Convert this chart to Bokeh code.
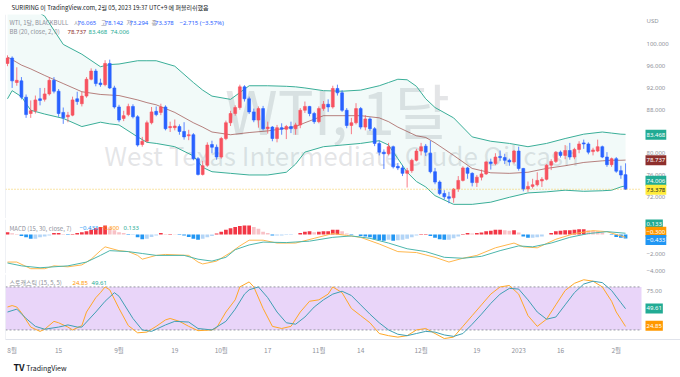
from bokeh.plotting import figure
from bokeh.layouts import column
from bokeh.models import Range1d, FixedTicker, Label, Span, BoxAnnotation, ColumnDataSource
from bokeh.embed import file_html
from bokeh.resources import INLINE
from bokeh.core.properties import value

# ---------------- data ----------------
opens = [96.5, 97.5, 93.0, 93.3, 90.3, 87.3, 87.8, 90.0, 89.9, 90.9,
         93.4, 91.4, 87.5, 86.7, 87.0, 90.0, 89.1, 90.5, 93.6, 95.1,
         92.9, 92.6, 96.5, 92.0, 88.5, 86.4, 87.1, 88.6, 86.7, 81.6,
         82.2, 85.6, 87.7, 87.5, 88.5, 84.7, 84.7, 84.9, 84.0, 83.2,
         83.4, 79.0, 76.1, 77.8, 81.6, 81.1, 79.3, 82.7, 85.6, 87.3,
         88.4, 92.2, 90.0, 87.6, 86.1, 88.2, 84.5, 84.8, 82.7, 84.7,
         84.4, 84.9, 84.5, 85.2, 87.9, 88.6, 87.3, 85.8, 88.2, 89.0,
         88.5, 91.9, 91.1, 87.9, 85.1, 85.6, 88.2, 84.8, 86.3, 84.5,
         81.8, 80.2, 79.9, 81.2, 77.6, 77.3, 76.3, 76.8, 78.7, 80.4,
         81.3, 80.0, 76.6, 74.7, 72.6, 72.0, 71.8, 73.4, 75.0, 77.3,
         76.3, 74.6, 75.6, 76.2, 78.4, 78.1, 79.4, 79.2, 78.7, 78.4,
         80.4, 77.2, 73.4, 73.9, 74.2, 74.9, 75.2, 77.8, 78.5, 80.2,
         79.6, 80.5, 79.3, 80.7, 81.9, 81.7, 80.3, 80.4, 81.2, 79.3,
         77.9, 79.0, 76.8, 76.065]
highs = [98.0, 97.8, 95.8, 94.0, 90.8, 89.7, 90.6, 92.0, 92.0, 94.0,
         94.0, 91.8, 88.4, 87.6, 90.4, 91.3, 91.3, 94.0, 95.6, 95.5,
         93.7, 97.1, 97.2, 92.4, 88.9, 87.8, 89.1, 89.0, 87.0, 83.0,
         86.0, 88.5, 88.6, 89.1, 88.8, 85.8, 86.2, 85.3, 85.7, 84.3,
         83.7, 79.3, 78.6, 82.0, 82.3, 81.6, 83.0, 86.0, 87.8, 88.8,
         92.6, 92.5, 90.4, 88.2, 88.6, 88.7, 85.8, 85.0, 85.2, 85.5,
         85.2, 85.8, 85.6, 88.3, 89.5, 88.7, 87.6, 88.6, 89.6, 89.9,
         92.4, 92.6, 91.6, 88.3, 86.5, 89.2, 88.5, 87.0, 86.6, 84.8,
         82.3, 80.7, 81.9, 81.4, 78.2, 77.8, 77.3, 79.0, 80.8, 81.9,
         81.7, 82.3, 77.3, 75.0, 73.2, 72.9, 73.6, 75.8, 77.6, 77.5,
         76.5, 76.0, 77.0, 78.6, 79.0, 80.0, 80.5, 79.9, 79.0, 80.6,
         81.2, 77.3, 74.8, 75.3, 76.5, 75.6, 78.0, 78.9, 80.4, 80.5,
         81.5, 81.9, 81.0, 82.2, 82.5, 82.0, 81.0, 82.5, 81.4, 80.2,
         79.2, 79.3, 77.7, 78.142]
lows = [96.0, 92.0, 92.4, 89.9, 86.5, 86.5, 87.3, 88.8, 89.5, 90.6,
        91.0, 86.7, 85.4, 85.7, 86.8, 88.9, 88.6, 90.2, 93.4, 92.3,
        92.2, 92.3, 91.8, 88.2, 85.7, 85.9, 86.8, 86.4, 81.2, 81.2,
        82.0, 85.3, 86.8, 87.0, 84.2, 83.9, 84.2, 83.4, 82.5, 82.4,
        78.7, 75.9, 75.9, 77.5, 80.0, 78.8, 79.0, 82.4, 85.0, 86.9,
        88.0, 89.5, 87.2, 85.7, 84.7, 84.2, 83.6, 82.2, 82.0, 83.4,
        82.6, 83.7, 83.4, 84.6, 87.4, 86.8, 85.4, 85.5, 87.8, 87.6,
        88.2, 90.6, 87.6, 84.6, 83.5, 85.3, 84.4, 84.2, 84.1, 81.3,
        79.6, 77.1, 79.6, 77.2, 76.9, 75.8, 73.7, 76.4, 78.5, 79.6,
        79.5, 76.3, 74.3, 72.3, 71.5, 70.8, 70.9, 72.9, 74.8, 75.3,
        73.9, 73.8, 75.0, 76.0, 77.0, 77.8, 78.6, 78.0, 77.7, 78.1,
        76.8, 73.0, 72.9, 73.5, 73.9, 73.8, 75.0, 76.9, 78.2, 79.2,
        78.9, 78.8, 78.9, 80.0, 80.8, 79.8, 79.6, 80.2, 79.1, 77.5,
        77.5, 76.4, 75.3, 73.294]
closes = [97.5, 93.3, 93.4, 90.3, 87.1, 87.8, 89.8, 89.7, 90.9, 93.4,
          91.4, 87.3, 86.5, 87.0, 89.8, 89.5, 90.5, 93.6, 95.1, 92.8,
          92.6, 96.5, 92.0, 88.5, 86.1, 86.9, 88.6, 86.7, 81.5, 82.2,
          85.6, 87.6, 87.1, 88.5, 84.5, 84.9, 85.0, 84.0, 83.0, 83.4,
          79.0, 76.1, 77.7, 81.5, 81.1, 79.3, 82.7, 85.6, 87.3, 88.4,
          92.2, 90.0, 87.6, 86.1, 88.2, 84.5, 84.8, 82.7, 84.7, 84.4,
          84.9, 84.5, 85.2, 87.9, 88.6, 87.3, 85.8, 88.2, 89.0, 88.5,
          91.9, 91.1, 87.9, 85.1, 85.6, 88.2, 84.8, 86.3, 84.5, 81.8,
          80.2, 79.9, 81.2, 77.5, 77.3, 76.3, 76.8, 78.7, 80.4, 81.2,
          80.2, 76.6, 74.7, 72.6, 72.0, 71.7, 73.4, 75.0, 77.3, 76.3,
          74.6, 75.6, 76.2, 78.4, 78.1, 79.3, 79.2, 78.7, 78.4, 80.4,
          77.2, 73.4, 73.9, 74.2, 75.0, 75.2, 77.8, 78.5, 80.2, 79.6,
          80.5, 79.3, 80.7, 81.7, 81.7, 80.2, 80.6, 81.2, 79.3, 77.9,
          79.0, 76.7, 76.0, 73.378]

# Bollinger bands (20, close, 2) read at these bar positions
bb_x = [0, 1, 3, 5, 8, 12, 16, 20, 22, 24, 28, 30, 32, 36, 40, 42, 44, 48, 52, 56,
        60, 62, 64, 68, 72, 76, 80, 82, 84, 86, 88, 90, 92, 96, 100, 104, 108, 112,
        116, 120, 124, 128, 130, 132, 133]
bb_upper = [108.0, 107.8, 107.3, 106.8, 105.2, 100.0, 98.2, 95.9, 96.3, 96.4, 97.0, 97.0,
            97.0, 96.0, 93.0, 91.6, 90.5, 89.9, 92.4, 92.4, 92.3, 92.2, 92.0, 91.5, 91.4,
            91.6, 92.4, 93.0, 93.6, 93.5, 92.3, 90.0, 88.4, 86.5, 83.0, 82.2, 81.8, 81.2,
            81.8, 82.7, 83.5, 83.9, 83.7, 83.5, 83.468]
bb_basis = [97.7, 97.2, 96.2, 95.5, 94.3, 92.8, 91.3, 90.8, 90.7, 90.6, 89.8, 89.3,
            88.9, 87.5, 85.6, 84.8, 83.9, 83.4, 83.8, 84.1, 84.6, 84.9, 85.6, 86.9, 86.9,
            86.9, 86.5, 85.8, 84.8, 84.0, 83.2, 82.9, 81.9, 79.6, 77.2, 76.4, 76.3, 76.5,
            77.2, 77.7, 78.3, 78.6, 78.7, 78.7, 78.737]
bb_lower = [90.0, 91.5, 90.4, 87.9, 87.2, 86.4, 84.9, 85.7, 85.4, 85.2, 83.0, 82.0,
            81.8, 81.2, 79.5, 77.4, 76.6, 76.3, 76.0, 76.0, 76.5, 78.0, 80.2, 81.2, 81.5,
            81.8, 82.3, 81.5, 79.0, 76.5, 74.8, 73.8, 72.2, 70.6, 70.6, 71.0, 71.9, 72.7,
            72.9, 73.2, 73.0, 73.1, 73.2, 73.8, 74.006]

# MACD (15, 30, close, 7)
macd_hist = [0.25, 0.12, 0.05, -0.15, -0.3, -0.45, -0.45, -0.3, -0.2, -0.1,
             0.15, 0.15, 0.05, -0.05, 0.05, 0.15, 0.25, 0.35, 0.5, 0.65,
             0.8, 0.95, 0.75, 0.45, 0.25, 0.15, -0.05, -0.05, -0.3, -0.5,
             -0.45, -0.25, -0.1, 0.15, 0.05, 0.05, 0.03, -0.05, -0.1, -0.25,
             -0.45, -0.55, -0.45, -0.3, -0.15, 0.1, 0.3, 0.5, 0.65, 0.8,
             0.9, 0.95, 0.95, 0.8, 0.6, 0.3, 0.15, -0.1, -0.1, -0.1,
             -0.05, -0.05, 0.0, 0.15, 0.3, 0.35, 0.25, 0.3, 0.35, 0.35,
             0.5, 0.5, 0.35, 0.1, -0.05, 0.0, -0.15, -0.2, -0.3, -0.5,
             -0.6, -0.65, -0.55, -0.65, -0.6, -0.55, -0.45, -0.3, -0.1, 0.05,
             0.05, -0.15, -0.35, -0.5, -0.55, -0.55, -0.4, -0.2, 0.05, 0.15,
             0.1, 0.15, 0.2, 0.35, 0.4, 0.5, 0.5, 0.45, 0.4, 0.45,
             0.2, -0.2, -0.35, -0.35, -0.3, -0.2, 0.0, 0.15, 0.35, 0.4,
             0.45, 0.45, 0.5, 0.55, 0.55, 0.45, 0.4, 0.35, 0.2, 0.0,
             -0.05, -0.25, -0.35, -0.433]
macd_x = [0, 2, 5, 8, 10, 13, 16, 18, 20, 21, 24, 26, 28, 29, 32, 34, 39, 41, 42, 45,
          48, 50, 52, 55, 58, 62, 66, 70, 73, 76, 80, 84, 88, 92, 95, 98, 101, 105, 109,
          111, 114, 118, 122, 126, 129, 131, 133]
macd_line = [-2.9, -2.9, -3.6, -3.6, -3.3, -3.4, -3.2, -2.6, -1.7, -1.3, -1.7, -1.8,
             -2.2, -2.6, -2.2, -2.1, -2.2, -2.9, -3.1, -2.8, -1.9, -1.2, -0.6, -0.6,
             -0.9, -0.9, -0.4, 0.1, -0.1, -0.3, -1.0, -1.8, -1.9, -2.4, -2.9, -2.5,
             -2.2, -1.4, -0.9, -1.3, -1.4, -0.5, 0.1, 0.4, 0.3, 0.0, -0.3]
signal_x = [0, 3, 7, 13, 17, 20, 22, 26, 29, 32, 38, 41, 44, 47, 49, 52, 55, 60, 65, 70,
            74, 78, 82, 86, 90, 94, 98, 102, 106, 110, 113, 117, 121, 125, 129, 133]
signal_line = [-3.0, -3.3, -3.5, -3.3, -2.9, -2.2, -1.7, -1.8, -2.0, -2.2, -2.2, -2.6,
               -2.8, -2.4, -1.6, -1.1, -0.8, -0.85, -0.7, -0.3, -0.15, -0.4, -0.9, -1.5,
               -1.8, -2.4, -2.5, -2.3, -1.7, -1.2, -1.3, -0.9, -0.3, 0.1, 0.3, 0.133]

# Stochastic (15, 5, 5)
stoch_k_x = [0, 1, 2, 3, 5, 7, 8, 10, 11, 13, 14, 16, 17, 19, 20, 21, 22, 24, 26, 28,
             30, 32, 34, 35, 37, 39, 41, 44, 45, 47, 49, 50, 52, 53, 55, 57, 59, 61, 63,
             65, 67, 69, 70, 72, 74, 76, 78, 80, 82, 84, 86, 88, 90, 92, 94, 96, 98, 100,
             102, 104, 106, 108, 110, 112, 114, 116, 118, 120, 122, 124, 126, 128, 130,
             131, 132, 133]
stoch_k = [52, 54, 52, 44, 24, 18, 21, 32, 30, 24, 20, 26, 45, 65, 72, 80, 76, 50, 26, 16,
           17, 25, 34, 36, 32, 25, 19, 20, 23, 45, 62, 80, 87, 80, 50, 25, 22, 25, 45,
           60, 62, 70, 80, 72, 50, 40, 30, 15, 12, 10, 12, 20, 22, 15, 8, 10, 25, 40,
           55, 70, 80, 82, 70, 40, 25, 35, 55, 75, 85, 90, 88, 80, 60, 45, 35, 24.85]
stoch_d_x = [0, 2, 4, 6, 8, 11, 13, 15, 16, 19, 21, 23, 24, 27, 29, 31, 34, 36, 39, 41,
             44, 47, 49, 51, 52, 54, 56, 58, 60, 62, 64, 66, 68, 70, 72, 74, 76, 78, 80,
             82, 84, 86, 88, 90, 92, 94, 96, 98, 100, 102, 104, 106, 108, 110, 112, 114,
             116, 118, 120, 122, 124, 126, 128, 130, 132, 133]
stoch_d = [45, 49, 36, 25, 21, 24, 27, 24, 24, 45, 60, 72, 67, 36, 20, 18, 27, 32, 31, 22,
           20, 32, 49, 70, 76, 80, 65, 45, 30, 28, 38, 52, 62, 70, 74, 68, 55, 42, 30,
           20, 14, 12, 15, 18, 17, 13, 11, 15, 28, 42, 57, 70, 78, 77, 62, 45, 35, 38,
           55, 72, 84, 88, 86, 75, 58, 49.61]

tick_bars = [1, 11, 24, 36, 46, 56, 67, 76, 89, 101, 110, 119, 131]
tick_labels = ["8월", "15", "9월", "19", "10월", "17", "11월", "14", "12월", "19", "2023", "16", "2월"]
price_ticks = [72, 76, 80, 88, 92, 96, 100]
macd_ticks = [-2]
macd_low_label = -4
stoch_ticks = [75]

# ---------------- layout constants ----------------
W = 680
LEFT, SCALE_X = 5, 641          # chart frame left edge, price-scale edge (px)
PXB = 4.647                     # px per bar
X0 = -0.43
X1 = X0 + (W - LEFT) / PXB


def mx(px):
    return X0 + (px - LEFT) / PXB


XS = mx(SCALE_X)

MAIN_T, MAIN_H = 14, 204
P_TOP, P_SCALE = 105.5, 5.44


def my(py):
    return P_TOP - (py - MAIN_T) / P_SCALE


MACD_T, MACD_H = 219, 54
M_SCALE = 9.5
M_TOP = (234 - MACD_T) / M_SCALE


def mcy(py):
    return M_TOP - (py - MACD_T) / M_SCALE


ST_T, ST_H, ST_B = 274, 68, 15
S_SCALE = 0.75
S_TOP = 80 + (287 - ST_T) / S_SCALE


def sty(py):
    return S_TOP - (py - ST_T) / S_SCALE


KFONT = "Noto Sans CJK KR"
NFONT = "Noto Sans"
AXC = "#8f929b"
LEGC = "#8f929b"
BORDER = "#e0e3eb"
SEPC = "#b8bbc3"
UP, DOWN = "#f7525f", "#2962ff"
TEAL = "#22ab94"
ORANGE = "#ff9800"
BLUE = "#2196f3"
BASIS = "#8e2f2c"
FS = "6px"
LFS = "6px"

bars = list(range(len(closes)))


def pane(h, y0, y1, bottom=0, xaxis=False):
    p = figure(width=W, height=h + bottom, x_range=Range1d(X0, X1), y_range=Range1d(y0, y1),
               toolbar_location=None, output_backend="svg", title=None,
               x_axis_location="below" if xaxis else None, y_axis_location="right",
               min_border_left=LEFT, min_border_right=0, min_border_top=0,
               min_border_bottom=bottom)
    p.outline_line_color = None
    p.grid.visible = False
    p.background_fill_color = "white"
    p.border_fill_color = "white"
    ya = p.yaxis[0]
    ya.fixed_location = XS
    ya.axis_line_color = None
    ya.major_tick_line_color = None
    ya.minor_tick_line_color = None
    ya.major_tick_out = 0
    ya.major_tick_in = 0
    ya.major_label_text_font_size = FS
    ya.major_label_text_color = AXC
    ya.major_label_text_font = NFONT
    ya.major_label_standoff = 5
    p.add_layout(Span(location=X0, dimension="height", line_color=BORDER, line_width=1))
    return p


def strip(h, color):
    s = figure(width=W, height=h, toolbar_location=None, output_backend="svg", title=None,
               x_axis_location=None, y_axis_location=None, min_border=0,
               x_range=Range1d(0, W), y_range=Range1d(h, 0))
    s.outline_line_color = None
    s.grid.visible = False
    s.background_fill_color = color
    s.border_fill_color = color
    return s


def legend(p, items, y, size=LFS):
    src = ColumnDataSource(dict(x=[mx(a) for a, _, _, _ in items], y=[y] * len(items),
                                text=[t for _, t, _, _ in items],
                                color=[c for _, _, c, _ in items],
                                font=[f for _, _, _, f in items]))
    p.text(x="x", y="y", text="text", text_color="color", text_font="font", source=src,
           text_font_size=size, text_baseline="middle", text_align="left")


def tag(p, yv, txt, bg, fg="white"):
    p.add_layout(Label(x=mx(645), y=yv, text=txt, text_font=NFONT, text_font_size=FS,
                       text_color=fg, background_fill_color=bg, text_baseline="middle",
                       text_align="left", padding=(1, 3)))


# ---------------- header ----------------
hdr = strip(13, "white")
hdr.text(x=[6], y=[7], text=["SURIRING 이 TradingView.com, 2월 05, 2023 19:37 UTC+9 에 퍼블리쉬했음"],
         text_font=value(KFONT), text_font_size="6px", text_color="#131722",
         text_baseline="middle", text_align="left")

# ---------------- main price pane ----------------
pm = pane(MAIN_H, my(MAIN_T + MAIN_H), P_TOP)
pm.yaxis.ticker = FixedTicker(ticks=price_ticks)
pm.yaxis.major_label_overrides = {t: f"{t:.3f}" for t in price_ticks}

pm.text(x=[mx(337)], y=[my(108)], text=["WTI, 1달"], text_font=value(KFONT),
        text_font_size="60px", text_color="#9598a1", text_alpha=0.25,
        text_align="center", text_baseline="alphabetic")
pm.text(x=[mx(341)], y=[my(154)], text=["West Texas Intermediate Crude Oil cash"],
        text_font=value(KFONT), text_font_size="26px", text_color="#9598a1", text_alpha=0.25,
        text_align="center", text_baseline="alphabetic")

pm.varea(x=bb_x, y1=bb_lower, y2=bb_upper, fill_color="#26a69a", fill_alpha=0.06)
pm.line(bb_x, bb_upper, line_color="#3aae98", line_width=1)
pm.line(bb_x, bb_lower, line_color="#3aae98", line_width=1)
pm.line(bb_x, bb_basis, line_color=BASIS, line_alpha=0.6, line_width=1)

ccol = [UP if c >= o else DOWN for o, c in zip(opens, closes)]
csrc = ColumnDataSource(dict(x=bars, o=opens, h=highs, l=lows, c=closes, col=ccol))
pm.segment(x0="x", y0="l", x1="x", y1="h", line_color="col", line_alpha=0.75,
           line_width=1, source=csrc)
pm.vbar(x="x", width=0.62, top="c", bottom="o", fill_color="col", line_color="col",
        line_width=0.6, source=csrc)

pm.line([X0, XS], [closes[-1], closes[-1]], line_color="#f2c94c", line_dash="1 2", line_width=1)

legend(pm, [(9, "WTI, 1달, BLACKBULL", LEGC, KFONT), (73.5, "시", LEGC, KFONT),
            (77, f"{opens[-1]:.3f}", DOWN, NFONT), (100.5, "고", LEGC, KFONT),
            (104, f"{highs[-1]:.3f}", DOWN, NFONT), (126, "저", LEGC, KFONT),
            (129, f"{lows[-1]:.3f}", DOWN, NFONT), (151, "종", LEGC, KFONT),
            (154.5, f"{closes[-1]:.3f}", DOWN, NFONT),
            (179, "−2.715 (−3.57%)", DOWN, NFONT)], my(22))
legend(pm, [(9, "BB (20, close, 2, 0)", LEGC, KFONT), (67, f"{bb_basis[-1]:.3f}", BASIS, NFONT),
            (88, f"{bb_upper[-1]:.3f}", TEAL, NFONT), (110, f"{bb_lower[-1]:.3f}", TEAL, NFONT)],
       my(31))

pm.add_layout(Label(x=mx(646), y=my(20), text="USD", text_font=NFONT, text_font_size=FS,
                    text_color=AXC, text_baseline="middle", text_align="left"))
tag(pm, my(134.2), f"{bb_upper[-1]:.3f}", TEAL)
tag(pm, my(159.7), f"{bb_basis[-1]:.3f}", BASIS)
tag(pm, my(180.3), f"{bb_lower[-1]:.3f}", TEAL)
tag(pm, my(189.3), f"{closes[-1]:.3f}", "#ffeb3b", "#131722")

# ---------------- MACD pane ----------------
pc = pane(MACD_H, mcy(MACD_T + MACD_H), M_TOP)
pc.yaxis.ticker = FixedTicker(ticks=macd_ticks)
pc.yaxis.major_label_overrides = {t: f"−{abs(t):.3f}" for t in macd_ticks}
hcol = []
for k, hv in enumerate(macd_hist):
    prev = macd_hist[k - 1] if k > 0 else hv
    if hv >= 0:
        hcol.append("#f23645" if hv >= prev else "#f8c1c6")
    else:
        hcol.append("#2196f3" if hv < prev else "#b3d5f7")
pc.vbar(x=bars, width=0.8, top=macd_hist, bottom=0, fill_color=hcol, line_color=None)
pc.line(macd_x, macd_line, line_color="#ffb74d", line_width=1)
pc.line(signal_x, signal_line, line_color="#4db6ac", line_width=1)
legend(pc, [(9, "MACD (15, 30, close, 7)", LEGC, KFONT),
            (79, f"−{abs(macd_hist[-1]):.3f}", BLUE, NFONT),
            (100, f"−{abs(macd_line[-1]):.3f}", ORANGE, NFONT),
            (123, f"{signal_line[-1]:.3f}", TEAL, NFONT)], mcy(227.5))
# lowest scale label sits on the pane's bottom edge; keep it fully inside the pane
pc.add_layout(Label(x=XS, y=mcy(MACD_T + MACD_H), x_offset=5, y_offset=1,
                    text=f"−{abs(macd_low_label):.3f}", text_font=NFONT, text_font_size=FS,
                    text_color=AXC, text_baseline="bottom", text_align="left"))
tag(pc, mcy(223.0), f"{signal_line[-1]:.3f}", TEAL)
tag(pc, mcy(231.2), f"−{abs(macd_line[-1]):.3f}", ORANGE)
tag(pc, mcy(239.5), f"−{abs(macd_hist[-1]):.3f}", BLUE)

# ---------------- Stochastic pane ----------------
ps = pane(ST_H, sty(ST_T + ST_H), S_TOP, bottom=ST_B, xaxis=True)
ps.yaxis.ticker = FixedTicker(ticks=stoch_ticks)
ps.yaxis.major_label_overrides = {t: f"{t:.2f}" for t in stoch_ticks}
ps.add_layout(BoxAnnotation(left=X0, right=XS, bottom=20, top=80, fill_color="#e9d5f9",
                            fill_alpha=1, line_color=None, level="underlay"))
ps.line([X0, XS], [80, 80], line_color="#9598a1", line_dash="2 2", line_width=1)
ps.line([X0, XS], [20, 20], line_color="#9598a1", line_dash="2 2", line_width=1)
ps.line(stoch_k_x, stoch_k, line_color="#ffa726", line_width=1)
ps.line(stoch_d_x, stoch_d, line_color="#3f9fb3", line_width=1)
legend(ps, [(9, "스토캐스틱 (15, 5, 5)", LEGC, KFONT), (72, f"{stoch_k[-1]:.2f}", ORANGE, NFONT),
            (91, f"{stoch_d[-1]:.2f}", TEAL, NFONT)], sty(282.5))
tag(ps, sty(309.5), f"{stoch_d[-1]:.2f}", TEAL)
tag(ps, sty(327.5), f"{stoch_k[-1]:.2f}", ORANGE)

xa = ps.xaxis[0]
xa.ticker = FixedTicker(ticks=tick_bars)
xa.major_label_overrides = {b: t for b, t in zip(tick_bars, tick_labels)}
xa.axis_line_color = BORDER
xa.major_tick_line_color = None
xa.minor_tick_line_color = None
xa.major_tick_out = 0
xa.major_tick_in = 0
xa.major_label_text_font = KFONT
xa.major_label_text_font_size = "6.5px"
xa.major_label_text_color = AXC
xa.major_label_standoff = 5

# ---------------- footer ----------------
ftr = strip(19, "white")
ftr.text(x=[8], y=[9], text=["TV"], text_font=value(KFONT), text_font_size="9px",
         text_font_style="bold", text_color="#131722", text_baseline="middle", text_align="left")
ftr.text(x=[21], y=[9], text=["TradingView"], text_font=value(KFONT), text_font_size="7px",
         text_color="#131722", text_baseline="middle", text_align="left")

layout = column(hdr, strip(1, BORDER), pm, strip(1, SEPC), pc, strip(1, SEPC), ps,
                strip(1, BORDER), ftr, spacing=0)

open("out.html", "w").write(file_html(layout, INLINE))
